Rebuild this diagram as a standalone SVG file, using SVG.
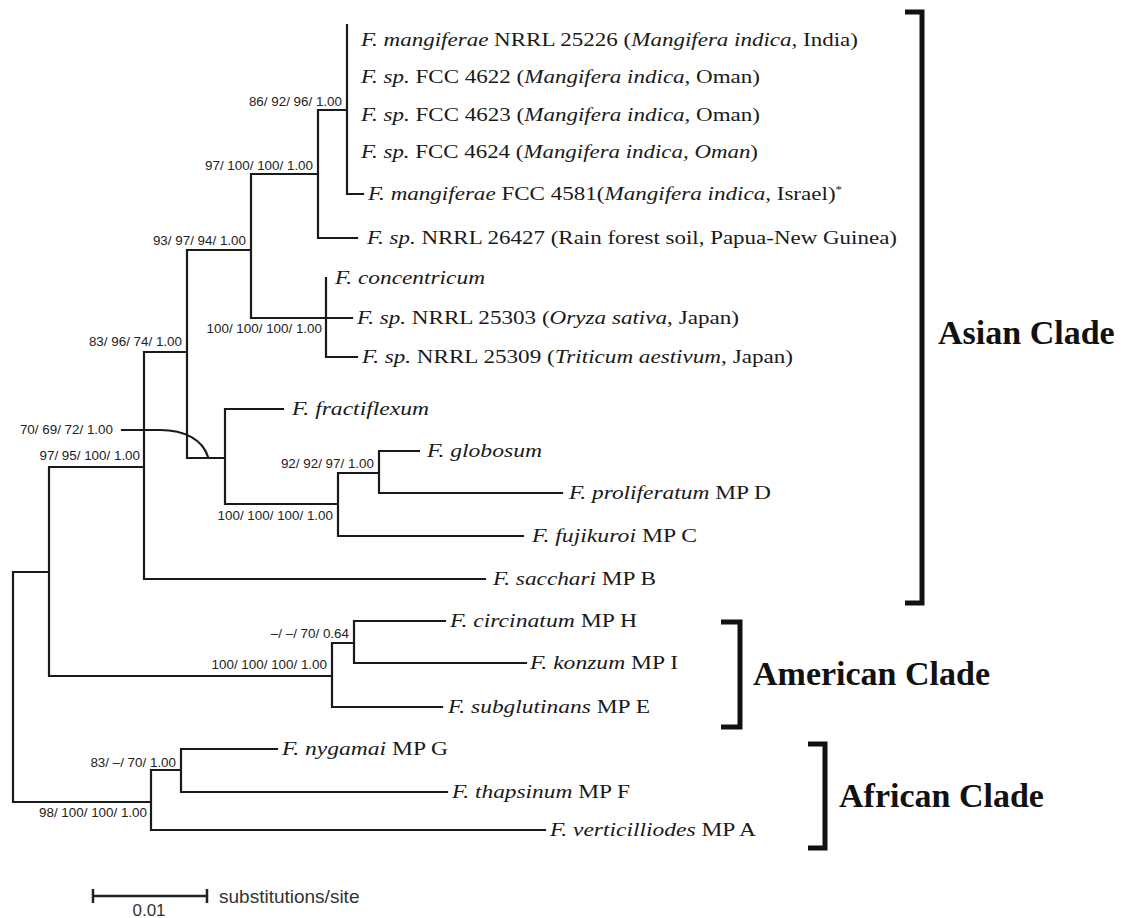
<svg xmlns="http://www.w3.org/2000/svg" width="1122" height="918" viewBox="0 0 1122 918">
<style>
.br{fill:none;stroke:#1a1a1a;stroke-width:2.2;stroke-linecap:square}
.tx{font-family:"Liberation Serif","Times New Roman",serif;font-size:18px;fill:#1a1a1a}
.it{font-style:italic}
.sv{font-family:"Liberation Sans",Arial,sans-serif;font-size:13.4px;fill:#222;text-anchor:end}
.cl{font-family:"Liberation Serif","Times New Roman",serif;font-size:34px;font-weight:bold;fill:#111}
.bk{fill:none;stroke:#111;stroke-width:5;stroke-linejoin:miter}
.sc{font-family:"Liberation Sans",Arial,sans-serif;fill:#333}
</style>
<rect width="1122" height="918" fill="#fff"/>
<g id="connectors">
<path class="br" d="M347,25V194H363M318,110H347M318,110V238H357M251,174H318M251,174V318H352M326,278V357H357M187,250H251M187,250V458M144,352H187M187,458H225M225,409V504M225,409H283M225,504H338M338,473V536M338,473H379M379,451V493M379,451H419M379,493H562M338,536H523M144,352V579H485M49,467H144M49,467V676H332M332,643V707H442M332,643H354M354,621V663M354,621H445M354,663H526M13,572H49M13,572V802H151M151,770V830H545M151,770H181M181,749V792M181,749H277M181,792H447"/>
<path class="br" d="M122,430H160C185,430 203,440 208,457" stroke-linecap="butt"/>
</g>
<g id="support">
<text class="sv" x="342" y="106">86/ 92/ 96/ 1.00</text>
<text class="sv" x="313" y="170">97/ 100/ 100/ 1.00</text>
<text class="sv" x="246" y="245">93/ 97/ 94/ 1.00</text>
<text class="sv" x="322" y="333">100/ 100/ 100/ 1.00</text>
<text class="sv" x="182" y="346">83/ 96/ 74/ 1.00</text>
<text class="sv" x="113" y="434">70/ 69/ 72/ 1.00</text>
<text class="sv" x="140" y="460">97/ 95/ 100/ 1.00</text>
<text class="sv" x="374" y="468">92/ 92/ 97/ 1.00</text>
<text class="sv" x="333" y="520">100/ 100/ 100/ 1.00</text>
<text class="sv" x="349" y="638">–/ –/ 70/ 0.64</text>
<text class="sv" x="327" y="669">100/ 100/ 100/ 1.00</text>
<text class="sv" x="176" y="767">83/ –/ 70/ 1.00</text>
<text class="sv" x="147" y="817">98/ 100/ 100/ 1.00</text>
</g>
<g id="taxa">
<text class="tx" x="361" y="46" textLength="497" lengthAdjust="spacingAndGlyphs"><tspan class="it">F. mangiferae</tspan> NRRL 25226 (<tspan class="it">Mangifera indica</tspan>, India)</text>
<text class="tx" x="361" y="83" textLength="399" lengthAdjust="spacingAndGlyphs"><tspan class="it">F. sp.</tspan> FCC 4622 (<tspan class="it">Mangifera indica</tspan>, Oman)</text>
<text class="tx" x="361" y="121" textLength="399" lengthAdjust="spacingAndGlyphs"><tspan class="it">F. sp.</tspan> FCC 4623 (<tspan class="it">Mangifera indica</tspan>, Oman)</text>
<text class="tx" x="361" y="158" textLength="397" lengthAdjust="spacingAndGlyphs"><tspan class="it">F. sp.</tspan> FCC 4624 (<tspan class="it">Mangifera indica, Oman</tspan>)</text>
<text class="tx" x="368" y="200" textLength="474" lengthAdjust="spacingAndGlyphs"><tspan class="it">F. mangiferae</tspan> FCC 4581(<tspan class="it">Mangifera indica</tspan>, Israel)<tspan font-size="10" dy="-7">*</tspan></text>
<text class="tx" x="367" y="244" textLength="530" lengthAdjust="spacingAndGlyphs"><tspan class="it">F. sp.</tspan> NRRL 26427 (Rain forest soil, Papua-New Guinea)</text>
<text class="tx it" x="335" y="284" textLength="150" lengthAdjust="spacingAndGlyphs">F. concentricum</text>
<text class="tx" x="357" y="324" textLength="382" lengthAdjust="spacingAndGlyphs"><tspan class="it">F. sp.</tspan> NRRL 25303 (<tspan class="it">Oryza sativa</tspan>, Japan)</text>
<text class="tx" x="362" y="363" textLength="431" lengthAdjust="spacingAndGlyphs"><tspan class="it">F. sp.</tspan> NRRL 25309 (<tspan class="it">Triticum aestivum</tspan>, Japan)</text>
<text class="tx it" x="292" y="415" textLength="137" lengthAdjust="spacingAndGlyphs">F. fractiflexum</text>
<text class="tx it" x="427" y="457" textLength="115" lengthAdjust="spacingAndGlyphs">F. globosum</text>
<text class="tx" x="569" y="499" textLength="202" lengthAdjust="spacingAndGlyphs"><tspan class="it">F. proliferatum</tspan> MP D</text>
<text class="tx" x="532" y="542" textLength="165" lengthAdjust="spacingAndGlyphs"><tspan class="it">F. fujikuroi</tspan> MP C</text>
<text class="tx" x="493" y="585" textLength="163" lengthAdjust="spacingAndGlyphs"><tspan class="it">F. sacchari</tspan> MP B</text>
<text class="tx" x="450" y="627" textLength="187" lengthAdjust="spacingAndGlyphs"><tspan class="it">F. circinatum</tspan> MP H</text>
<text class="tx" x="530" y="669" textLength="148" lengthAdjust="spacingAndGlyphs"><tspan class="it">F. konzum</tspan> MP I</text>
<text class="tx" x="448" y="713" textLength="202" lengthAdjust="spacingAndGlyphs"><tspan class="it">F. subglutinans</tspan> MP E</text>
<text class="tx" x="282" y="755" textLength="166" lengthAdjust="spacingAndGlyphs"><tspan class="it">F. nygamai</tspan> MP G</text>
<text class="tx" x="452" y="798" textLength="178" lengthAdjust="spacingAndGlyphs"><tspan class="it">F. thapsinum</tspan> MP F</text>
<text class="tx" x="550" y="836" textLength="206" lengthAdjust="spacingAndGlyphs"><tspan class="it">F. verticilliodes</tspan> MP A</text>
</g>
<g id="clade-asian">
<path class="bk" d="M905,12H922V603H905"/>
<text class="cl" x="938" y="344">Asian Clade</text>
</g>
<g id="clade-american">
<path class="bk" d="M721,622H740V727H721"/>
<text class="cl" x="753" y="685">American Clade</text>
</g>
<g id="clade-african">
<path class="bk" d="M808,744H825V848H808"/>
<text class="cl" x="839" y="807">African Clade</text>
</g>
<g id="scale-bar">
<path d="M93,896H207M93,889V903M207,889V903" fill="none" stroke="#222" stroke-width="2.5"/>
<text class="sc" x="149" y="916" font-size="17" text-anchor="middle">0.01</text>
<text class="sc" x="219" y="903" font-size="19">substitutions/site</text>
</g>
</svg>
